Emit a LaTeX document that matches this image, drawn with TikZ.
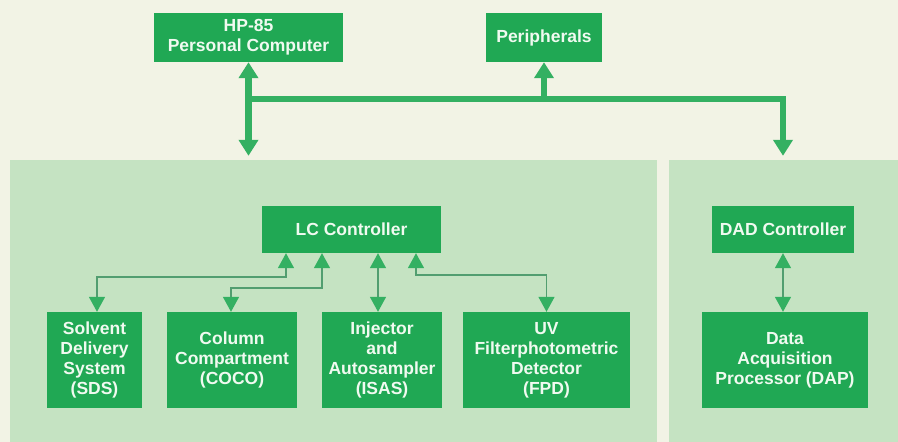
\documentclass[tikz,border=0pt]{standalone}
\usepackage{fontspec}
\setmainfont{Liberation Sans}
\usetikzlibrary{arrows.meta}

\definecolor{paper}{RGB}{242,243,229}
\definecolor{panelgreen}{RGB}{197,227,194}
\definecolor{boxgreen}{RGB}{32,168,84}
\definecolor{busgreen}{RGB}{52,176,98}
\definecolor{linkgreen}{RGB}{82,158,112}
\definecolor{labelwhite}{RGB}{240,250,240}

\tikzset{
  panel/.style={fill=panelgreen, draw=none, inner sep=0pt},
  unit/.style={fill=boxgreen, draw=none, text=labelwhite, inner sep=0pt,
    align=center, font=\bfseries\fontsize{17.5}{20}\selectfont},
  bus/.style={draw=busgreen, line width=6.5pt, line join=miter,
    arrows={-Triangle[width=19pt,length=16pt]}},
  busboth/.style={bus, arrows={Triangle[width=19pt,length=16pt]-Triangle[width=19pt,length=16pt]}},
  link/.style={draw=linkgreen, line width=1.5pt, line join=miter,
    arrows={Triangle[width=16pt,length=15pt,color=busgreen]-Triangle[width=16pt,length=15pt,color=busgreen]}},
}

\begin{document}
\begin{tikzpicture}[x=1pt,y=-1pt]
  % page
  \fill[paper] (0,0) rectangle (898,442);
  \useasboundingbox (0,0) rectangle (898,442);

  % the two instrument panels
  \node[panel, minimum width=647pt, minimum height=282pt] (lcpanel) at (333.5,301) {};
  \node[panel, minimum width=229pt, minimum height=282pt] (dadpanel) at (783.5,301) {};

  % host side
  \node[unit, minimum width=189pt, minimum height=49pt] (hp) at (248.5,37.5) {HP-85\\Personal Computer};
  \node[unit, minimum width=116pt, minimum height=49pt] (peri) at (544,37.5) {Peripherals};

  % controllers
  \node[unit, minimum width=179pt, minimum height=47pt] (lc) at (351.5,229.5) {LC Controller};
  \node[unit, minimum width=142pt, minimum height=47pt] (dad) at (783,229.5) {DAD Controller};

  % LC modules
  \node[unit, minimum width=95pt, minimum height=96pt] (sds) at (94.5,360) {Solvent\\Delivery\\System\\(SDS)};
  \node[unit, minimum width=130pt, minimum height=96pt] (coco) at (232,360) {Column\\Compartment\\(COCO)};
  \node[unit, minimum width=120pt, minimum height=96pt] (isas) at (382,360) {Injector\\and\\Autosampler\\(ISAS)};
  \node[unit, minimum width=167pt, minimum height=96pt] (fpd) at (546.5,360) {UV\\Filterphotometric\\Detector\\(FPD)};
  \node[unit, minimum width=166pt, minimum height=96pt] (dap) at (785,360) {Data\\Acquisition\\Processor (DAP)};

  % system bus
  \coordinate (busL) at (248.5,99);
  \coordinate (busR) at (783,99);
  \draw[busboth, shorten >=4pt] (hp.south) -- (hp.south |- lcpanel.north);
  \draw[bus, shorten >=4pt] (busL) -- (busR) -- (busR |- dadpanel.north);
  \draw[bus] (peri.south |- busL) -- (peri.south);

  % LC controller links
  \draw[link] ([xshift=-65.5pt]lc.south) -- ++(0,24) -| ([xshift=2.5pt]sds.north);
  \draw[link] ([xshift=-29.5pt]lc.south) -- ++(0,35) -| ([xshift=-1pt]coco.north);
  \draw[link] ([xshift=26.5pt]lc.south) -- ([xshift=26.5pt]lc.south |- isas.north);
  \draw[link] ([xshift=64.5pt]lc.south) -- ++(0,22) -| (fpd.north);

  % DAD controller link
  \draw[link] (dad.south) -- (dad.south |- dap.north);
\end{tikzpicture}
\end{document}
